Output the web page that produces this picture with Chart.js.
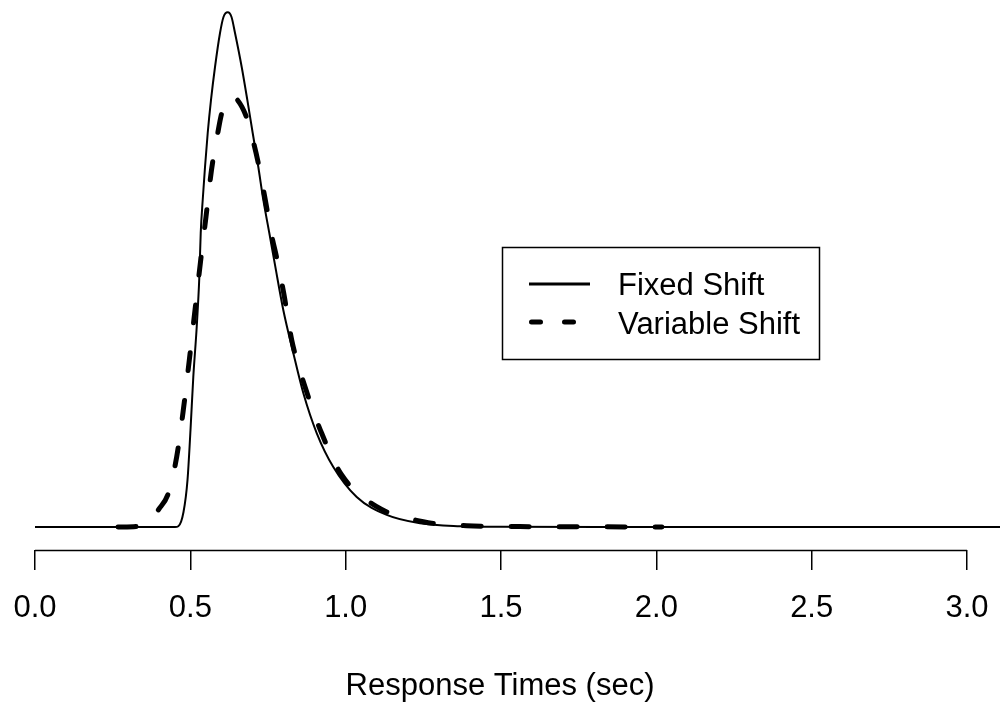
<!DOCTYPE html>
<html>
<head>
<meta charset="utf-8">
<script src="https://cdn.jsdelivr.net/npm/chart.js@4/dist/chart.umd.min.js"></script>
<style>
  html, body { margin: 0; padding: 0; background: #fff; }
  canvas { display: block; }
</style>
</head>
<body>
<canvas id="c" width="1000" height="707"></canvas>
<script>
// ---- data (x in seconds, y in density units) ----
const fixedX = [0, 0.4506, 0.4613, 0.4780, 0.4909, 0.5005, 0.5095, 0.5205, 0.5289, 0.5334, 0.5398, 0.5472,
  0.5559, 0.5665, 0.5794, 0.5955, 0.6067, 0.6203, 0.6325, 0.6438, 0.6653, 0.6834, 0.7007, 0.7188, 0.7349,
  0.7542, 0.7725, 0.7992, 0.8314, 0.8636, 0.9067, 0.9602, 1.0355, 1.1321, 1.2393, 1.3680, 1.4968, 1.8187, 3.2];
const fixedY = [0, 0, 0.005, 0.102, 0.320, 0.660, 1.020, 1.360, 1.700, 1.999, 2.224, 2.448,
  2.679, 2.904, 3.128, 3.359, 3.468, 3.500, 3.468, 3.359, 3.128, 2.904, 2.679, 2.448, 2.224,
  1.999, 1.782, 1.476, 1.183, 0.911, 0.639, 0.408, 0.204, 0.082, 0.025, 0.005, 0.001, 0, 0];

const variableX = [0.2672, 0.3315, 0.3701, 0.3969, 0.4291, 0.4561, 0.4774, 0.4967, 0.5150, 0.5334, 0.5504,
  0.5681, 0.5881, 0.6010, 0.6309, 0.6470, 0.6792, 0.7027, 0.7188, 0.7413, 0.7629, 0.7774, 0.8005, 0.8263,
  0.8691, 0.9228, 0.9872, 1.0999, 1.2499, 1.3896, 1.561, 1.8187, 2.018];
const variableY = [0, 0.005, 0.031, 0.116, 0.229, 0.478, 0.796, 1.136, 1.476, 1.816, 2.110,
  2.428, 2.677, 2.813, 2.931, 2.915, 2.795, 2.620, 2.473, 2.224, 1.972, 1.836, 1.591, 1.272,
  0.954, 0.637, 0.354, 0.138, 0.036, 0.009, 0.003, 0.001, 0];

const seriesLabels = ['Fixed Shift', 'Variable Shift'];
const tickValues = [0, 0.5, 1.0, 1.5, 2.0, 2.5, 3.0];
const tickLabels = ['0.0', '0.5', '1.0', '1.5', '2.0', '2.5', '3.0'];
const xTitle = 'Response Times (sec)';

const FONT = "'Liberation Sans', Arial, Helvetica, sans-serif";

const toPoints = (xs, ys) => xs.map((x, i) => ({ x: x, y: ys[i] }));

// axis line from first to last tick (R style)
const axisLinePlugin = {
  id: 'axisLine',
  afterDraw(chart) {
    const xs = chart.scales.x;
    const ctx = chart.ctx;
    const y = Math.round(chart.chartArea.bottom) + 0.5;
    ctx.save();
    ctx.strokeStyle = '#000';
    ctx.lineWidth = 1.5;
    ctx.beginPath();
    ctx.moveTo(xs.getPixelForValue(tickValues[0]), y);
    ctx.lineTo(xs.getPixelForValue(tickValues[tickValues.length - 1]), y);
    ctx.stroke();
    ctx.restore();
  }
};

// boxed legend inside the plot
const boxLegendPlugin = {
  id: 'boxLegend',
  afterDraw(chart) {
    const ctx = chart.ctx;
    ctx.save();
    ctx.strokeStyle = '#000';
    ctx.lineWidth = 1.5;
    ctx.strokeRect(502.5, 247.5, 317, 112);
    const rows = [{ y: 284, base: 295 }, { y: 322, base: 334 }];
    chart.data.datasets.forEach((ds, i) => {
      const r = rows[i];
      ctx.beginPath();
      ctx.lineCap = i === 0 ? 'butt' : 'round';
      ctx.lineWidth = i === 0 ? 3 : 5;
      ctx.setLineDash(i === 0 ? [] : [9, 24]);
      ctx.moveTo(i === 0 ? 529 : 531.5, r.y);
      ctx.lineTo(i === 0 ? 590 : 575, r.y);
      ctx.stroke();
      ctx.setLineDash([]);
      ctx.fillStyle = '#000';
      ctx.font = '31px ' + FONT;
      ctx.textBaseline = 'alphabetic';
      ctx.textAlign = 'left';
      ctx.fillText(ds.label, 618, r.base);
    });
    ctx.restore();
  }
};

new Chart(document.getElementById('c'), {
  type: 'line',
  data: {
    datasets: [
      {
        label: seriesLabels[0],
        data: toPoints(fixedX, fixedY),
        borderColor: '#000',
        borderWidth: 2,
        pointRadius: 0,
        fill: false,
        cubicInterpolationMode: 'monotone',
        borderJoinStyle: 'round'
      },
      {
        label: seriesLabels[1],
        data: toPoints(variableX, variableY),
        borderColor: '#000',
        borderWidth: 5,
        borderDash: [18, 30],
        borderCapStyle: 'round',
        borderJoinStyle: 'round',
        pointRadius: 0,
        fill: false,
        cubicInterpolationMode: 'monotone'
      }
    ]
  },
  options: {
    responsive: false,
    animation: false,
    devicePixelRatio: 1,
    layout: { padding: 0 },
    plugins: { legend: { display: false }, tooltip: { enabled: false } },
    scales: {
      x: {
        type: 'linear',
        min: -0.1127,
        max: 3.1062,
        afterBuildTicks: (scale) => { scale.ticks = tickValues.map(v => ({ value: v })); },
        afterFit: (scale) => { scale.height = 157; scale.paddingLeft = 0; scale.paddingRight = 0; },
        border: { display: false },
        grid: {
          drawOnChartArea: false,
          drawTicks: true,
          tickLength: 20,
          color: '#000',
          lineWidth: 1.5
        },
        ticks: {
          autoSkip: false,
          maxRotation: 0,
          padding: 20,
          color: '#000',
          font: { family: FONT, size: 31 },
          callback: (value, index) => tickLabels[index]
        },
        title: {
          display: true,
          text: xTitle,
          color: '#000',
          font: { family: FONT, size: 31 },
          padding: { top: 0, bottom: 2 }
        }
      },
      y: {
        type: 'linear',
        display: false,
        min: -0.1564,
        max: 3.5836
      }
    }
  },
  plugins: [axisLinePlugin, boxLegendPlugin]
});
</script>
</body>
</html>
